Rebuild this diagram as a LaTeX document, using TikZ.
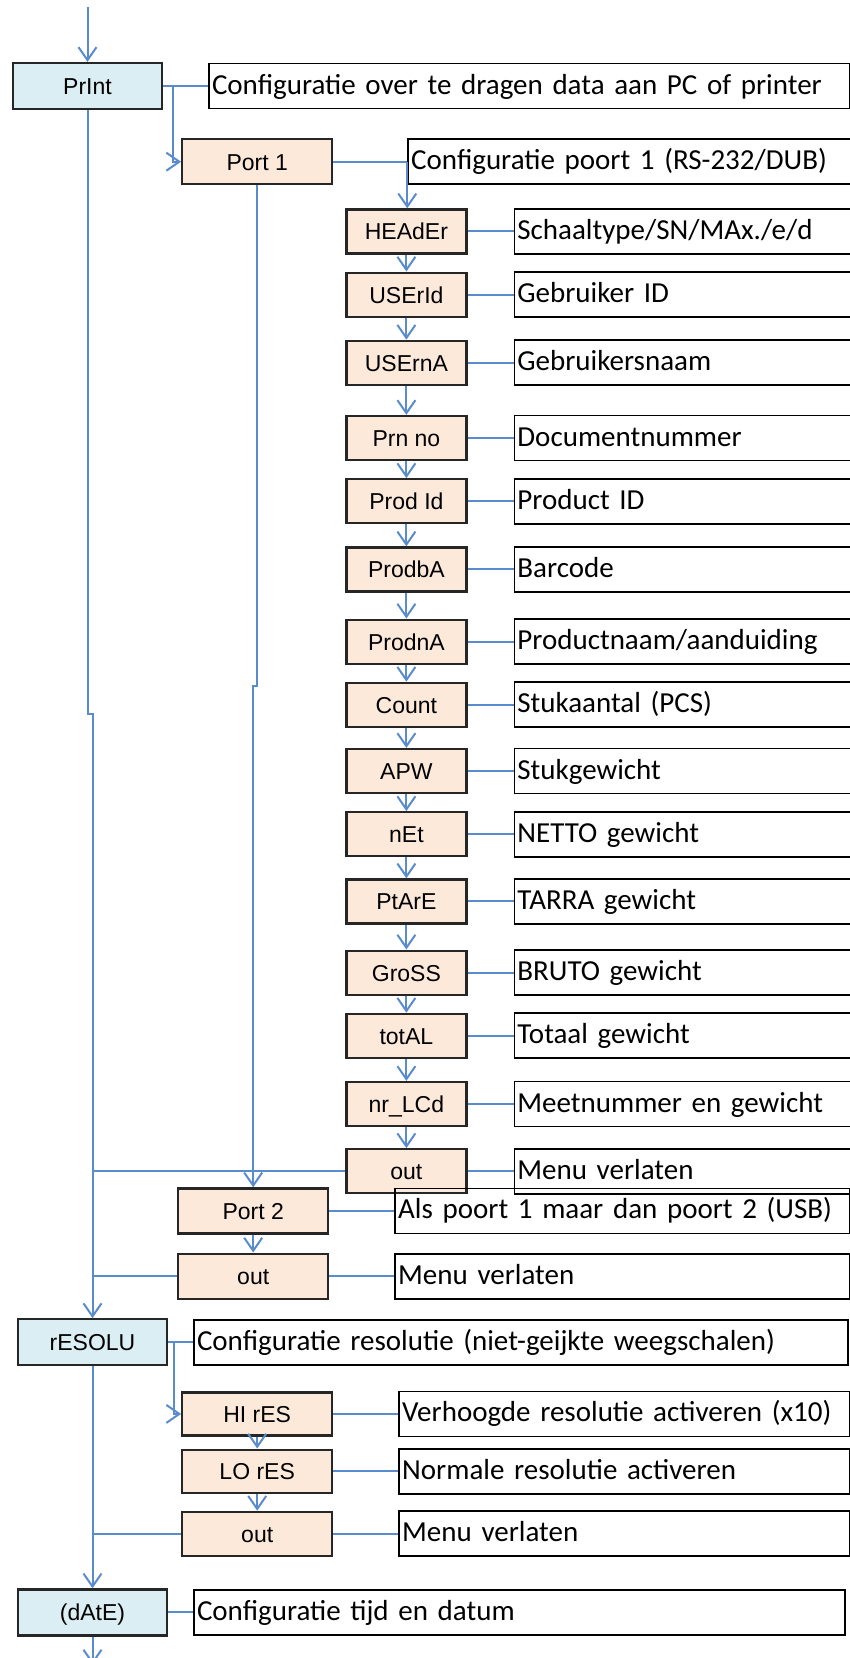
\documentclass[tikz,border=0pt]{standalone}
\usepackage{fontspec}
\setmainfont{Carlito}
\newfontfamily\labelfont{Liberation Sans}
\usepackage{tikz}
\usetikzlibrary{arrows.meta,positioning,calc}

\definecolor{menublue}{RGB}{218,238,243}
\definecolor{menuorange}{RGB}{253,233,217}
\definecolor{linkblue}{RGB}{90,140,205}

\begin{document}
\begin{tikzpicture}[
    x=1pt, y=1pt,
    menu/.style={rectangle, draw=black!85, line width=2.2pt, fill=menublue, minimum width=149pt, minimum height=46pt, inner sep=0pt, font=\labelfont\fontsize{23}{26}\selectfont, text height=17pt, text depth=0pt},
    submenu/.style={menu, fill=menuorange, minimum width=150pt, minimum height=45pt},
    item/.style={submenu, minimum width=120pt, minimum height=44pt},
    info/.style={rectangle, draw=black, line width=1.8pt, minimum height=45pt, inner xsep=3pt, inner ysep=0pt, align=left, font=\fontsize{29}{34}\selectfont, text height=21pt, text depth=5pt},
    arrow/.style={-{Straight Barb[length=13pt,width=18pt]}, draw=linkblue, line width=2pt},
    link/.style={draw=linkblue, line width=2pt},
]
\useasboundingbox (0,0) rectangle (850,-1658);

% Print menu
\node[menu] (print) at (87.5,-86) {PrInt};
\node[info, text width=635pt, right=45pt of print] (printdesc) {Configuratie over te dragen data aan PC of printer};
\node[submenu, below right=28pt and 18pt of print] (port1) {Port 1};
\node[info, text width=437pt, right=74pt of port1] (p1desc) {Configuratie poort 1 (RS-232/DUB)};

% Port 1 items
\node[item, below right=23pt and 12pt of port1] (header) {HEAdEr};
\node[item, below=17pt of header] (userid) {USErId};
\node[item, below=22pt of userid] (usernm) {USErnA};
\node[item, below=29pt of usernm] (prnno) {Prn no};
\node[item, below=17pt of prnno] (prodid) {Prod Id};
\node[item, below=22pt of prodid] (prodba) {ProdbA};
\node[item, below=26pt of prodba] (prodna) {ProdnA};
\node[item, below=17pt of prodna] (count) {Count};
\node[item, below=20pt of count] (apw) {APW};
\node[item, below=17pt of apw] (net) {nEt};
\node[item, below=21pt of net] (tare) {PtArE};
\node[item, below=25pt of tare] (gross) {GroSS};
\node[item, below=17pt of gross] (total) {totAL};
\node[item, below=22pt of total] (nrlcd) {nr\_LCd};
\node[item, below=21pt of nrlcd] (out1) {out};

% Port 1 item descriptions
\node[info, text width=332pt, right=46pt of header] (headerdesc) {Schaaltype/SN/MAx./e/d};
\node[info, text width=332pt, right=46pt of userid] (useriddesc) {Gebruiker ID};
\node[info, text width=332pt, right=46pt of usernm] (usernmdesc) {Gebruikersnaam};
\node[info, text width=332pt, right=46pt of prnno] (prnnodesc) {Documentnummer};
\node[info, text width=332pt, right=46pt of prodid] (prodiddesc) {Product ID};
\node[info, text width=332pt, right=46pt of prodba] (prodbadesc) {Barcode};
\node[info, text width=332pt, right=46pt of prodna] (prodnadesc) {Productnaam/aanduiding};
\node[info, text width=332pt, right=46pt of count] (countdesc) {Stukaantal (PCS)};
\node[info, text width=332pt, right=46pt of apw] (apwdesc) {Stukgewicht};
\node[info, text width=332pt, right=46pt of net] (netdesc) {NETTO gewicht};
\node[info, text width=332pt, right=46pt of tare] (taredesc) {TARRA gewicht};
\node[info, text width=332pt, right=46pt of gross] (grossdesc) {BRUTO gewicht};
\node[info, text width=332pt, right=46pt of total] (totaldesc) {Totaal gewicht};
\node[info, text width=332pt, right=46pt of nrlcd] (nrlcddesc) {Meetnummer en gewicht};
\node[info, text width=332pt, right=46pt of out1] (out1desc) {Menu verlaten};

% Port 2
\node[submenu, below=1002pt of port1, xshift=-4pt] (port2) {Port 2};
\node[info, text width=449pt, right=65pt of port2] (p2desc) {Als poort 1 maar dan poort 2 (USB)};
\node[submenu, below=18pt of port2] (out2) {out};
\node[info, text width=449pt, right=65pt of out2] (out2desc) {Menu verlaten};

% Resolution menu
\node[menu, below=1208pt of print, xshift=5pt] (resolu) {rESOLU};
\node[info, text width=648pt, right=25pt of resolu] (resdesc) {Configuratie resolutie (niet-geijkte weegschalen)};
\node[submenu, minimum height=43pt, below right=25pt and 13pt of resolu] (hires) {HI rES};
\node[info, text width=445pt, right=65pt of hires] (hidesc) {Verhoogde resolutie activeren (x10)};
\node[submenu, minimum height=43pt, below=12pt of hires] (lores) {LO rES};
\node[info, text width=445pt, right=65pt of lores] (lodesc) {Normale resolutie activeren};
\node[submenu, minimum height=44pt, below=17pt of lores] (out3) {out};
\node[info, text width=445pt, right=65pt of out3] (out3desc) {Menu verlaten};

% Date menu
\node[menu, below=222pt of resolu] (date) {(dAtE)};
\node[info, text width=645pt, right=25pt of date] (datedesc) {Configuratie tijd en datum};

\coordinate[above=55pt of print] (entry);
\coordinate[below=28pt of date] (exit);

% Arrows - Print
\draw[arrow] (entry) -- (print);
\draw[link] (print) -- (printdesc);
\draw[arrow] ([xshift=10pt]print.east) |- (port1);
\draw[arrow] (print.south) -- ++(0,-604) -| (resolu.north);
\draw[link] (port1) -- (p1desc);
\draw[arrow] (p1desc.west) -- (p1desc.west |- header.north);
\draw[arrow] (port1.south) -- ++(0,-501) -| (port2.north);

% Arrows - Port 1 items
\draw[arrow] (header) -- (userid);
\draw[arrow] (userid) -- (usernm);
\draw[arrow] (usernm) -- (prnno);
\draw[arrow] (prnno) -- (prodid);
\draw[arrow] (prodid) -- (prodba);
\draw[arrow] (prodba) -- (prodna);
\draw[arrow] (prodna) -- (count);
\draw[arrow] (count) -- (apw);
\draw[arrow] (apw) -- (net);
\draw[arrow] (net) -- (tare);
\draw[arrow] (tare) -- (gross);
\draw[arrow] (gross) -- (total);
\draw[arrow] (total) -- (nrlcd);
\draw[arrow] (nrlcd) -- (out1);
\draw[link] (out1.west) -- (out1.west -| resolu.north);

% Lines - items to descriptions
\draw[link] (header) -- (headerdesc);
\draw[link] (userid) -- (useriddesc);
\draw[link] (usernm) -- (usernmdesc);
\draw[link] (prnno) -- (prnnodesc);
\draw[link] (prodid) -- (prodiddesc);
\draw[link] (prodba) -- (prodbadesc);
\draw[link] (prodna) -- (prodnadesc);
\draw[link] (count) -- (countdesc);
\draw[link] (apw) -- (apwdesc);
\draw[link] (net) -- (netdesc);
\draw[link] (tare) -- (taredesc);
\draw[link] (gross) -- (grossdesc);
\draw[link] (total) -- (totaldesc);
\draw[link] (nrlcd) -- (nrlcddesc);
\draw[link] (out1) -- (out1desc);

% Arrows - Port 2
\draw[link] (port2) -- (p2desc);
\draw[arrow] (port2) -- (out2);
\draw[link] (out2) -- (out2desc);
\draw[link] (out2.west) -- (out2.west -| resolu.north);

% Arrows - Resolution
\draw[link] (resolu) -- (resdesc);
\draw[arrow] ([xshift=6pt]resolu.east) |- (hires);
\draw[link] (hires) -- (hidesc);
\draw[arrow] (hires) -- (lores);
\draw[link] (lores) -- (lodesc);
\draw[arrow] (lores) -- (out3);
\draw[link] (out3) -- (out3desc);
\draw[link] (out3.west) -- (out3.west -| date.north);
\draw[arrow] (resolu) -- (date);

% Arrows - Date
\draw[link] (date) -- (datedesc);
\draw[arrow] (date) -- (exit);

\end{tikzpicture}
\end{document}
